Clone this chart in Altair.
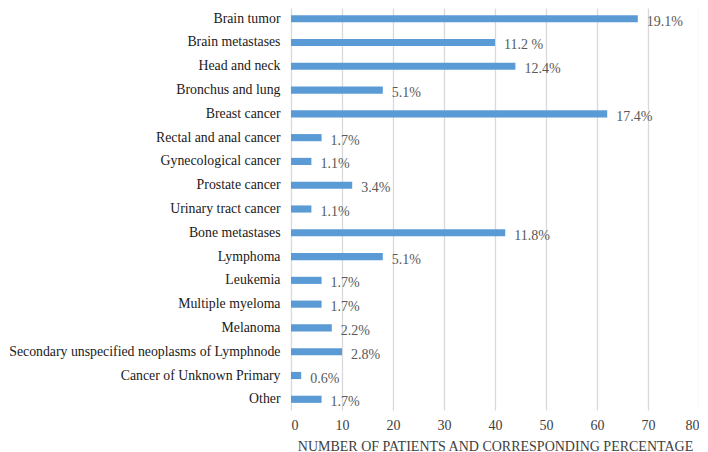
import altair as alt
import pandas as pd

categories = ["Brain tumor", "Brain metastases", "Head and neck ", "Bronchus and lung",
              "Breast cancer", "Rectal and anal cancer", "Gynecological cancer",
              "Prostate cancer", "Urinary tract cancer", "Bone metastases", "Lymphoma",
              "Leukemia", "Multiple myeloma", "Melanoma",
              "Secondary unspecified neoplasms of Lymphnode", "Cancer of Unknown Primary",
              "Other"]
counts = [68, 40, 44, 18, 62, 6, 4, 12, 4, 42, 18, 6, 6, 8, 10, 2, 6]
pct_labels = ["19.1%", "11.2 %", "12.4%", "5.1%", "17.4%", "1.7%", "1.1%", "3.4%",
              "1.1%", "11.8%", "5.1%", "1.7%", "1.7%", "2.2%", "2.8%", "0.6%", "1.7%"]

df = pd.DataFrame({"cat": categories, "n": counts, "pct": pct_labels})

FONT = "Liberation Serif"

y = alt.Y("cat:N", sort=categories, title=None,
          scale=alt.Scale(paddingInner=0.7, paddingOuter=0.3),
          axis=alt.Axis(domain=False, ticks=False, labelFont=FONT, labelFontSize=13.8,
                        labelColor="#1a1a1a", labelPadding=11, labelLimit=400))
x = alt.X("n:Q", title="NUMBER OF PATIENTS AND CORRESPONDING PERCENTAGE",
          scale=alt.Scale(domain=[0, 80], nice=False),
          axis=alt.Axis(values=list(range(0, 81, 10)), domain=False, ticks=False,
                        grid=True, gridColor="#d9d9d9", gridWidth=1.3,
                        labelFont=FONT, labelFontSize=14, labelColor="#404040",
                        labelPadding=8, titleFont=FONT, titleFontSize=14,
                        titleFontWeight="normal", titleColor="#404040", titlePadding=7))

bars = alt.Chart(df).mark_bar(color="#5B9BD5").encode(x=x, y=y)
text = alt.Chart(df).mark_text(align="left", baseline="middle", dx=9, dy=3,
                               font=FONT, fontSize=14, color="#595959").encode(
    x="n:Q", y=alt.Y("cat:N", sort=categories), text="pct:N")

chart = (bars + text).properties(
    width=408, height=402,
    autosize=alt.AutoSizeParams(type="none"),
    padding={"left": 283, "top": 0, "right": 0, "bottom": 42},
).configure_view(stroke=None)

chart.save("out.html", embed_options={"renderer": "svg", "actions": False})
